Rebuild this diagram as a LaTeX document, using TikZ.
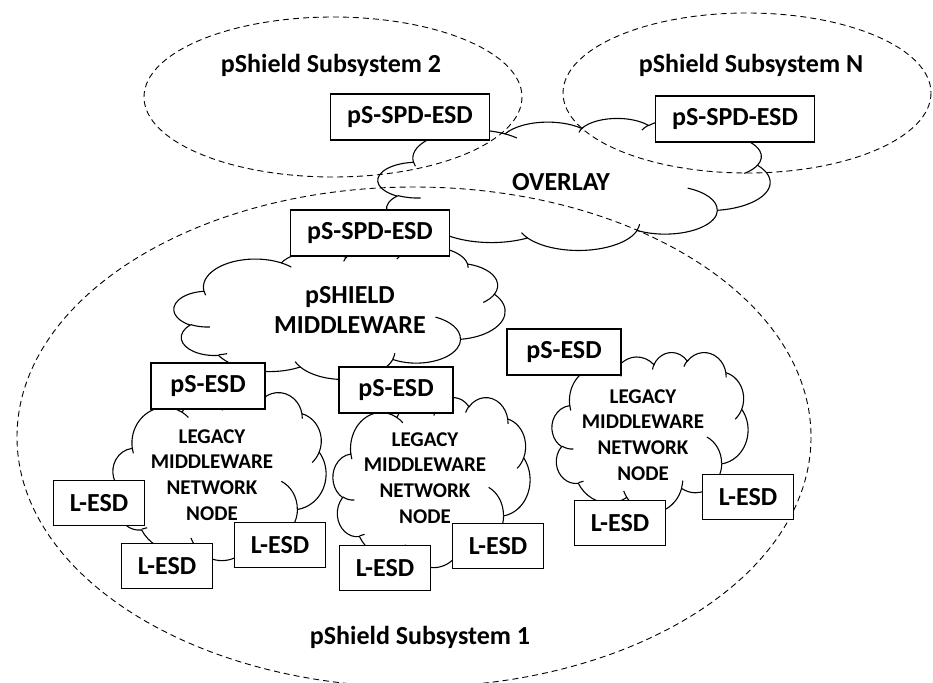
\documentclass[tikz,border=0pt]{standalone}
\usepackage{fontspec}
\setmainfont{Carlito}
\newcommand\pptcloud[5]{% name, left, top, width, height
  \begin{scope}[shift={(#2,#3)}, xscale=#4/432, yscale=#5/432]
    \coordinate (#1) at (216,216);
    \draw[cloudline] (39.00,143.70)
      arc[x radius=67.53, y radius=91.90, start angle=172.25, delta angle=128.11]
      arc[x radius=53.33, y radius=72.67, start angle=-152.02, delta angle=106.59]
      arc[x radius=43.65, y radius=59.45, start angle=-153.48, delta angle=116.16]
      arc[x radius=48.57, y radius=65.95, start angle=-139.73, delta angle=129.51]
      arc[x radius=53.33, y radius=72.73, start angle=-74.77, delta angle=97.98]
      arc[x radius=67.75, y radius=92.20, start angle=-37.54, delta angle=119.40]
      arc[x radius=57.85, y radius=78.67, start angle=0.46, delta angle=121.53]
      arc[x radius=67.52, y radius=92.15, start angle=16.85, delta angle=129.38]
      arc[x radius=77.20, y radius=105.43, start angle=58.98, delta angle=91.21]
      arc[x radius=43.60, y radius=59.18, start angle=83.31, delta angle=139.81]
      arc[x radius=43.45, y radius=59.45, start angle=120.35, delta angle=143.76]
      -- cycle;
    \draw[cloudline]
      (46.93,261.77) arc[x radius=43.45, y radius=59.45, start angle=85.54, delta angle=34.81]
      (69.28,348.99) arc[x radius=43.60, y radius=59.18, start angle=68.23, delta angle=15.08]
      (164.82,392.66) arc[x radius=67.52, y radius=92.15, start angle=146.23, delta angle=12.24]
      (288.27,347.51) arc[x radius=67.52, y radius=92.15, start angle=4.73, delta angle=12.12]
      (341.29,229.54) arc[x radius=57.85, y radius=78.67, start angle=-64.03, delta angle=64.49]
      (418.20,154.60) arc[x radius=53.33, y radius=72.73, start angle=23.21, delta angle=26.45]
      (383.19,55.76) arc[x radius=48.57, y radius=65.95, start angle=-10.22, delta angle=11.04]
      (290.78,39.52) arc[x radius=48.57, y radius=65.95, start angle=-156.29, delta angle=16.56]
      (221.41,47.20) arc[x radius=43.65, y radius=59.45, start angle=-167.72, delta angle=15.80]
      (140.03,52.01) arc[x radius=67.53, y radius=91.90, start angle=-59.64, delta angle=13.89]
      (41.27,157.89) arc[x radius=67.53, y radius=91.90, start angle=163.17, delta angle=9.08];
  \end{scope}}
\begin{document}
\begin{tikzpicture}[x=1pt, y=-1pt,
  cloudline/.style={line width=1.1pt, black},
  subsys/.style={draw, dash pattern=on 6pt off 4pt, line width=0.9pt},
  esdbox/.style={draw, fill=white, line width=1.1pt, inner sep=0pt, font=\fontsize{26}{30}\selectfont\bfseries},
  bigsd/.style={esdbox, minimum width=159pt, minimum height=46pt},
  psbox/.style={esdbox, minimum width=114pt, minimum height=46pt},
  lbox/.style={esdbox, minimum width=91pt, minimum height=45pt},
  lbl/.style={font=\fontsize{26}{30}\selectfont\bfseries, inner sep=0pt},
  legtxt/.style={font=\fontsize{21}{25.7}\selectfont\bfseries, align=center, inner sep=0pt}]
\useasboundingbox (0,0) rectangle (933,682);

% clouds
\pptcloud{overlay}{378}{118}{392}{132}
\pptcloud{mw}{174}{247}{331}{132}
\pptcloud{legL}{113}{392}{213}{168}
\pptcloud{legM}{333}{397}{197}{170}
\pptcloud{legR}{552}{352}{196}{160}

% subsystems
\draw[subsys] (333,97) ellipse[x radius=189, y radius=80];
\draw[subsys] (747,93) ellipse[x radius=184, y radius=80];
\draw[subsys] (414,437) ellipse[x radius=397, y radius=250];

% labels
\node[lbl] (s2) at (331,65) {pShield Subsystem 2};
\node[lbl] (sN) at (751,65) {pShield Subsystem N};
\node[lbl] (s1) at (420,637) {pShield Subsystem 1};
\node[lbl] (ovt) at (561,182) {OVERLAY};
\node[lbl, align=center] (mwt) at (350,310) {pSHIELD\\MIDDLEWARE};
\node[legtxt] (lLt) at (212,475) {LEGACY\\MIDDLEWARE\\NETWORK\\NODE};
\node[legtxt] (lMt) at (425,478) {LEGACY\\MIDDLEWARE\\NETWORK\\NODE};
\node[legtxt] (lRt) at (643,435) {LEGACY\\MIDDLEWARE\\NETWORK\\NODE};

% boxes
\node[bigsd] (b2) at (410,117) {pS-SPD-ESD};
\node[bigsd] (bN) at (735,119) {pS-SPD-ESD};
\node[bigsd] (b1) at (370,233) {pS-SPD-ESD};
\node[psbox] (pr) at (564,352) {pS-ESD};
\node[psbox] (pl) at (208,386) {pS-ESD};
\node[psbox] (pm) at (396,390) {pS-ESD};
\node[lbox] (l1) at (99,503) {L-ESD};
\node[lbox] (l2) at (167,566) {L-ESD};
\node[lbox] (l3) at (280,545) {L-ESD};
\node[lbox] (l4) at (385,568) {L-ESD};
\node[lbox] (l5) at (498,546) {L-ESD};
\node[lbox] (l6) at (620,523) {L-ESD};
\node[lbox] (l7) at (748,497) {L-ESD};
\end{tikzpicture}
\end{document}
